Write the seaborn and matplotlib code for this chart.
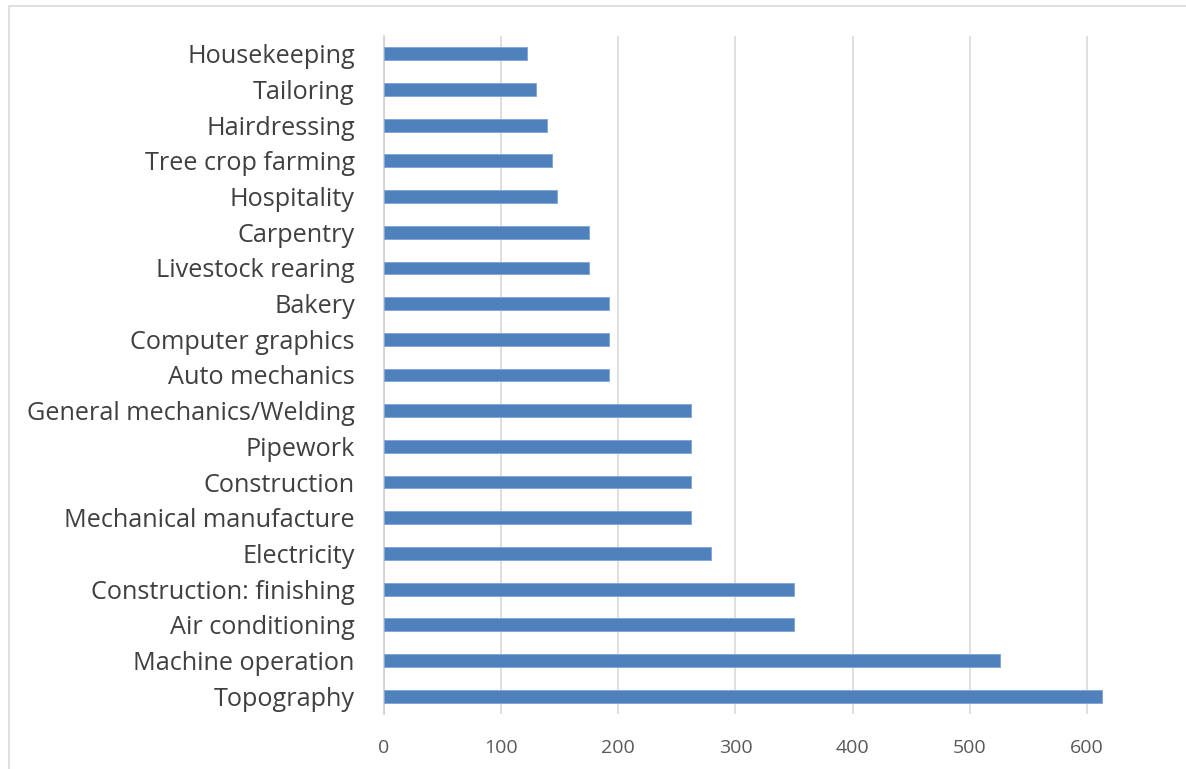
import matplotlib
matplotlib.use("Agg")
import matplotlib.pyplot as plt
from matplotlib.patches import Rectangle
import pandas as pd
import seaborn as sns

# Trainees per vocational field (top to bottom as drawn)
categories = [
    "Housekeeping", "Tailoring", "Hairdressing", "Tree crop farming",
    "Hospitality", "Carpentry", "Livestock rearing", "Bakery",
    "Computer graphics", "Auto mechanics", "General mechanics/Welding",
    "Pipework", "Construction", "Mechanical manufacture", "Electricity",
    "Construction: finishing", "Air conditioning", "Machine operation",
    "Topography",
]
values = [122, 130, 139, 143, 148, 175, 175, 192, 192, 192,
          262, 262, 262, 262, 279, 350, 350, 526, 613]
x_ticks = [0, 100, 200, 300, 400, 500, 600]

sns.set_theme(style="white")
plt.rcParams["font.family"] = ["Open Sans", "DejaVu Sans"]

W, H = 1186, 769
fig = plt.figure(figsize=(W / 100, H / 100), dpi=100, facecolor="white")

# chart-area border
fig.patches.append(Rectangle((9 / W, -0.1), 1.2, (H - 5.5) / H + 0.1,
                             transform=fig.transFigure, fill=False,
                             edgecolor="#D9D9D9", linewidth=1.2, zorder=0))

ax = fig.add_axes([384 / W, 1 - 714 / H, (1204 - 384) / W, (714 - 36) / H])
ax.set_facecolor("none")

df = pd.DataFrame({"Field": categories, "Count": values})
sns.barplot(data=df, y="Field", x="Count", orient="h", color="#4F81BD",
            saturation=1, width=0.36, edgecolor="#86A8D6", linewidth=0.7,
            ax=ax, zorder=3)

ax.set_xlim(0, 700)
ax.set_xticks(x_ticks)
ax.set_xticklabels([str(t) for t in x_ticks])
ax.grid(axis="x", color="#D9D9D9", linewidth=1.2, zorder=0)
ax.grid(axis="y", visible=False)
ax.set_axisbelow(True)
ax.set_xlabel("")
ax.set_ylabel("")

for side in ["top", "right", "bottom"]:
    ax.spines[side].set_visible(False)
ax.spines["left"].set_color("#D0D0D0")
ax.spines["left"].set_linewidth(1.2)

ax.tick_params(axis="y", length=0, pad=21, labelsize=18.2, labelcolor="#404040")
ax.tick_params(axis="x", length=0, pad=18, labelsize=14, labelcolor="#595959")

fig.savefig("out.png", dpi=100, facecolor="white")
